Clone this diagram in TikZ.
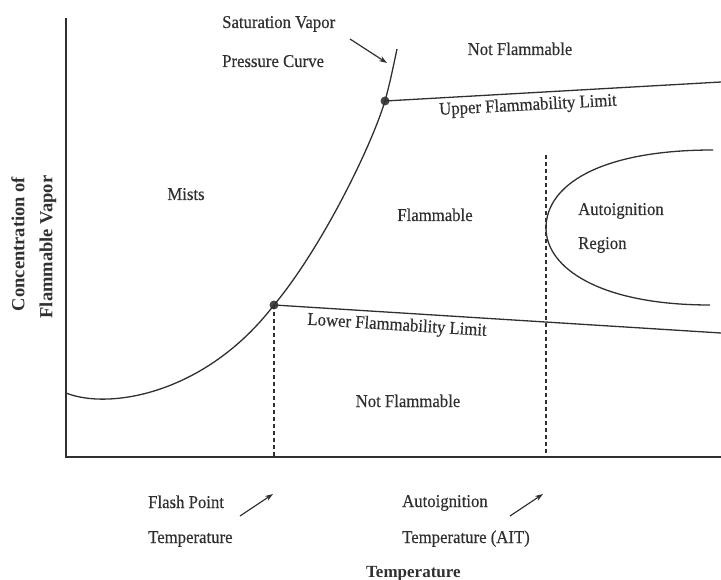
\documentclass[tikz,border=0pt]{standalone}
\usepackage{fontspec}
\setmainfont{Liberation Serif}[FakeStretch=0.93,FakeBold=0.4]
\newfontfamily\axisfont{Liberation Serif}
\usetikzlibrary{arrows.meta}
\definecolor{ink}{HTML}{303030}
\begin{document}
\begin{tikzpicture}[x=1pt,y=-1pt,
  lbl/.style={font=\fontsize{18}{20}\selectfont, text=ink, inner sep=0pt},
  axislbl/.style={font=\axisfont\bfseries\fontsize{18.5}{20}\selectfont, text=ink, inner sep=0pt, rotate=90},
  axisline/.style={draw=ink, line width=1.7pt},
  curve/.style={draw=ink, line width=1.3pt},
  guide/.style={draw=ink, line width=1.4pt, dash pattern=on 4pt off 3pt},
  pointer/.style={draw=ink, line width=1.2pt, -{Stealth[length=8pt,width=5.5pt]}},
  mark dot/.style={circle, fill=ink!90, inner sep=0pt, minimum size=9pt}]
\useasboundingbox (0,0) rectangle (721,580);

% axes
\coordinate (ytop) at (66,18);
\coordinate (origin) at (66,457);
\coordinate (xend) at (721,457);
\draw[axisline] (ytop) -- (origin) -- (xend);

% key points
\node[mark dot] (lfl) at (274,305) {};
\node[mark dot] (ufl) at (385,101) {};
\coordinate (satstart) at (66,393);
\coordinate (satend) at (397,49);
\coordinate (uflend) at (721,82);
\coordinate (lflend) at (721,333);
\coordinate (fpfoot) at (274,457);
\coordinate (aittop) at (546,155);
\coordinate (aitfoot) at (546,457);

% saturation vapor pressure curve
\draw[curve] (satstart) .. controls (108,410) and (205,395) .. (lfl.center)
  .. controls (320,250) and (370,150) .. (ufl.center)
  .. controls (390,82) .. (satend);

% flammability limits
\draw[curve] (ufl.center) -- (uflend);
\draw[curve] (lfl.center) -- (lflend);

% flash point and autoignition temperatures
\draw[guide] (lfl.center) -- (fpfoot);
\draw[guide] (aittop) -- (aitfoot);

% autoignition region
\coordinate (aitopen) at (713,150);
\coordinate (aitnose) at (546,228);
\coordinate (aitclose) at (710,305);
\draw[curve] (aitopen) .. controls (600,150) and (546,185) .. (aitnose)
  .. controls (546,268) and (600,305) .. (aitclose);

% region labels
\node[lbl, anchor=base west] (satA) at (222,28) {Saturation Vapor};
\node[lbl, anchor=base west] (satB) at (222,67) {Pressure Curve};
\node[lbl, anchor=base] (nfTop) at (520,55) {Not Flammable};
\node[lbl, rotate=3] (uflLbl) at (528,106) {Upper Flammability Limit};
\node[lbl, anchor=base] (mists) at (186,200) {Mists};
\node[lbl, anchor=base] (flam) at (435,221) {Flammable};
\node[lbl, anchor=base west] (aiA) at (578,215) {Autoignition};
\node[lbl, anchor=base west] (aiB) at (578,249) {Region};
\node[lbl, rotate=-3.6] (lflLbl) at (397,326) {Lower Flammability Limit};
\node[lbl, anchor=base] (nfLow) at (408,407) {Not Flammable};

% temperature labels under the axis
\node[lbl, anchor=base west] (fpA) at (148,508) {Flash Point};
\node[lbl, anchor=base west] (fpB) at (148,543) {Temperature};
\node[lbl, anchor=base west] (aitA) at (402,507) {Autoignition};
\node[lbl, anchor=base west] (aitB) at (402,543) {Temperature (AIT)};
\node[lbl, anchor=base west, font=\axisfont\bfseries\fontsize{17}{20}\selectfont] (xlbl) at (366,577) {Temperature};

% vertical axis label
\node[axislbl] (ylblA) at (18,244) {Concentration of};
\node[axislbl] (ylblB) at (48,247) {Flammable Vapor};

% pointers
\coordinate (satTail) at (350,39);
\coordinate (satTip) at (387,63);
\draw[pointer] (satTail) -- (satTip);
\coordinate (fpTail) at (240,516);
\coordinate (fpTip) at (273,494);
\draw[pointer] (fpTail) -- (fpTip);
\coordinate (aitTail) at (510,516);
\coordinate (aitTip) at (543,494);
\draw[pointer] (aitTail) -- (aitTip);
\end{tikzpicture}
\end{document}
